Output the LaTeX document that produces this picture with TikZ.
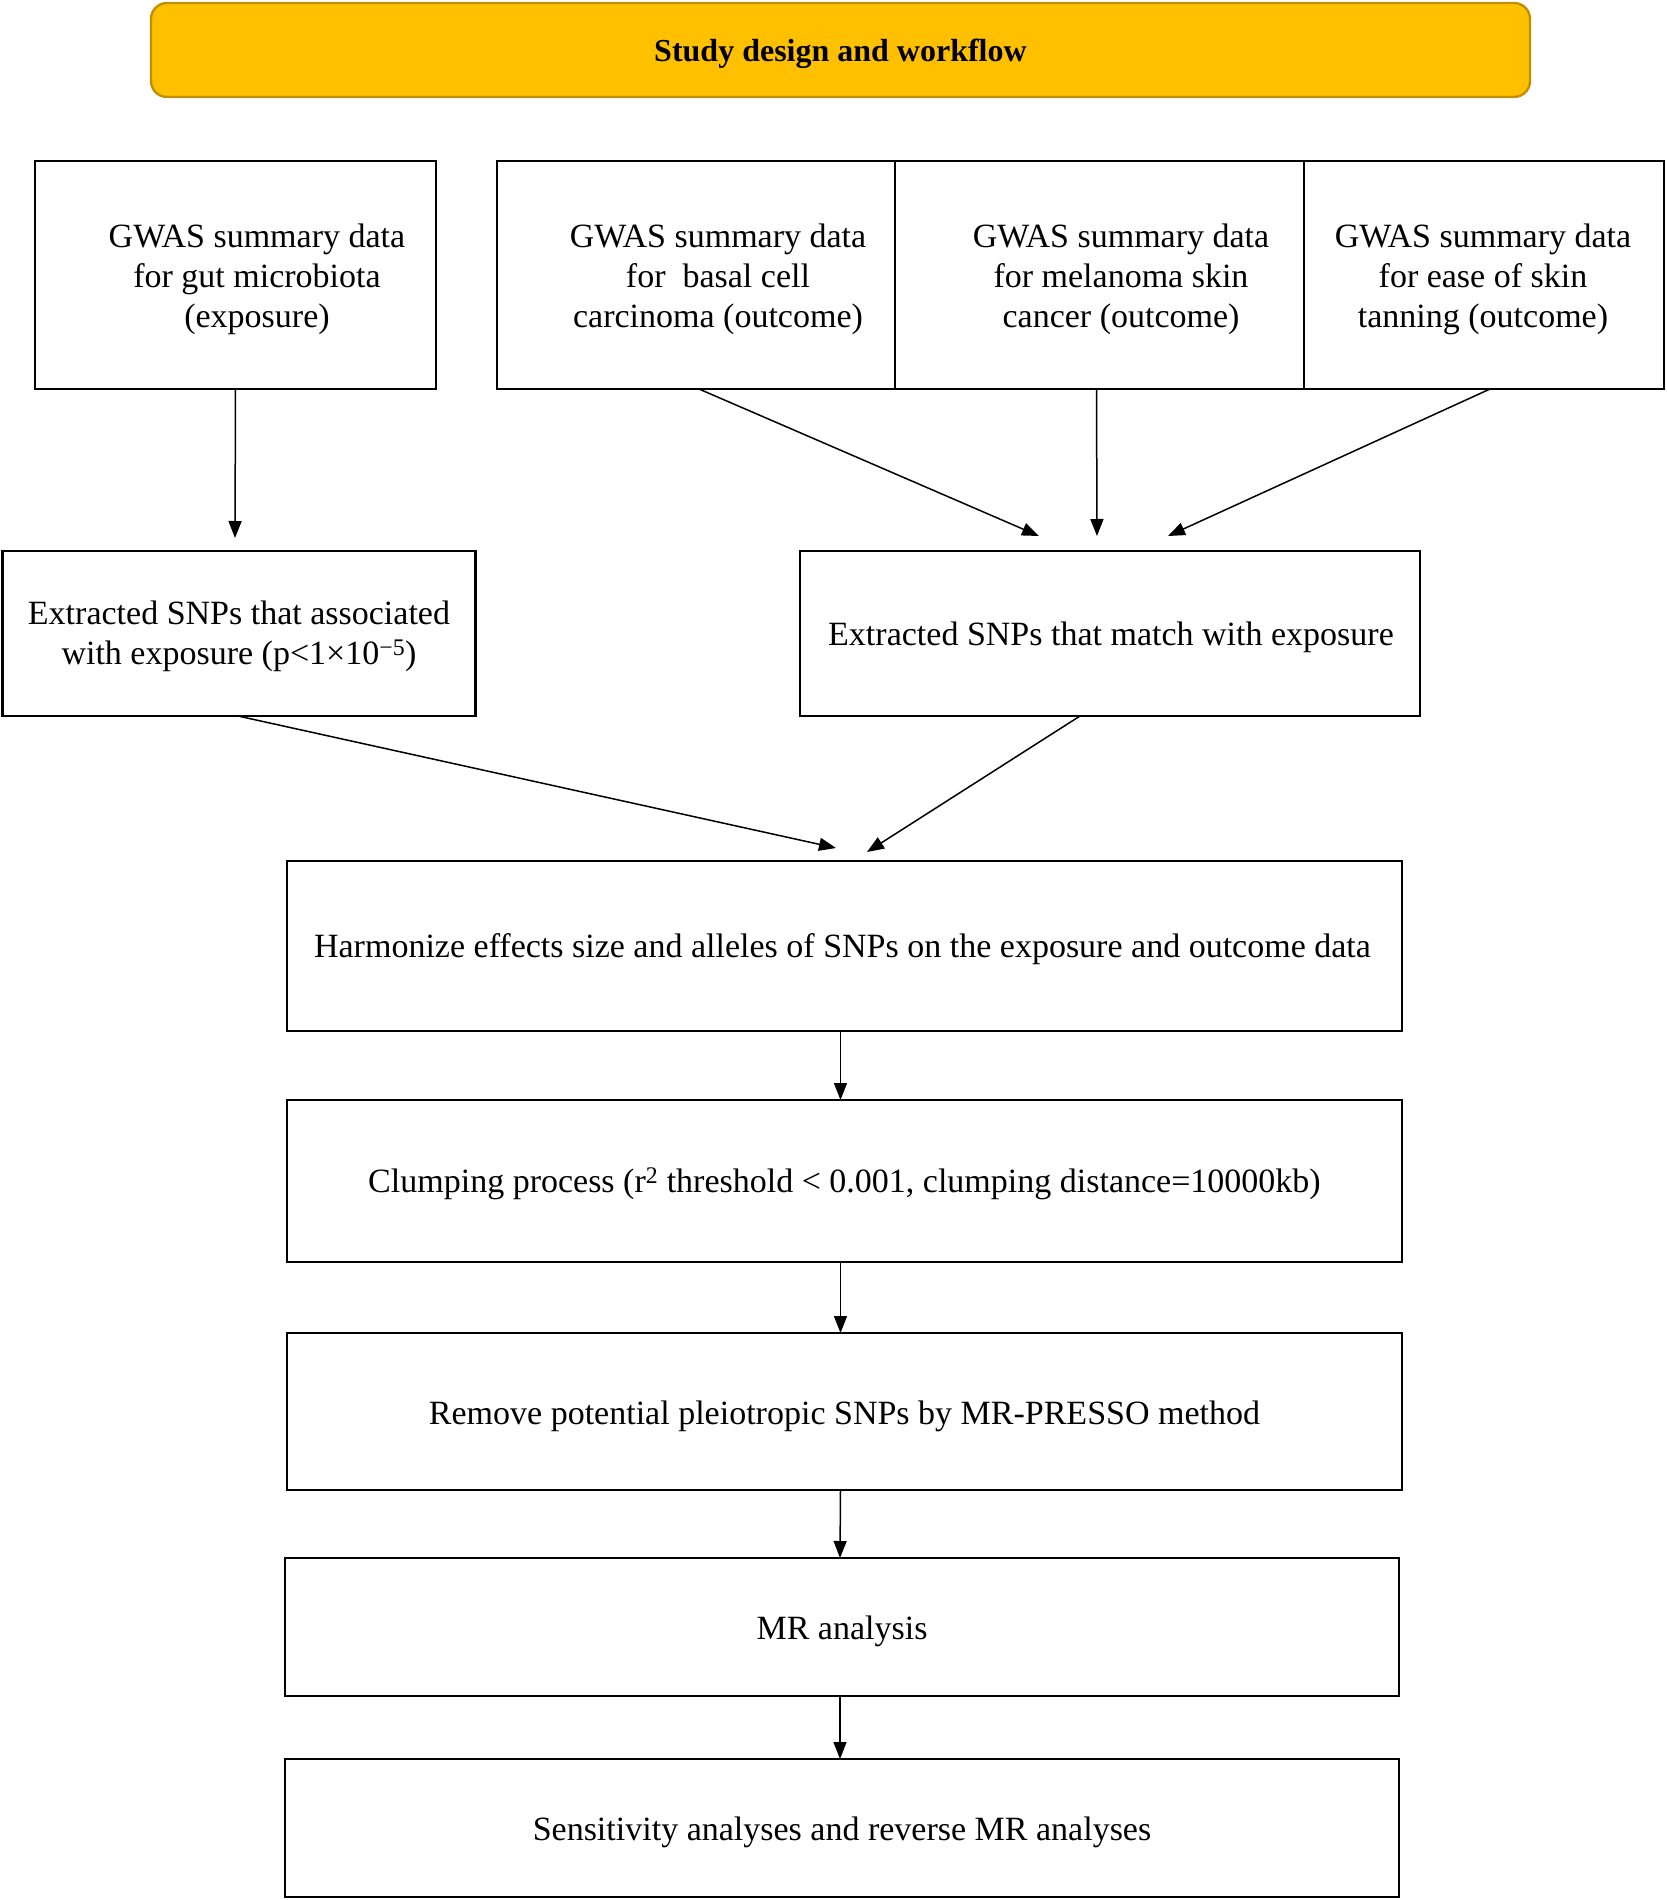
\documentclass[tikz,border=0pt]{standalone}
\usepackage{fontspec}
\setmainfont{Liberation Serif}
\usetikzlibrary{arrows.meta}
\definecolor{titlefill}{HTML}{FFC000}
\definecolor{titleedge}{HTML}{BF9000}
\tikzset{
  box/.style={draw=black, line width=2.6pt, fill=white, inner sep=0pt, outer sep=0pt},
  txt/.style={align=center, inner sep=0pt, font=\fontsize{34}{40}\selectfont},
  arr/.style={line width=1.5pt, -{Triangle[length=17pt,width=13pt]}},
}
\begin{document}
\begin{tikzpicture}[x=1pt,y=-1pt]
\useasboundingbox (0,0) rectangle (1666,1900);
% title
\node[draw=titleedge, fill=titlefill, line width=2.4pt, rounded corners=16pt,
      minimum width=1379pt, minimum height=94pt, inner sep=0pt] (title) at (840.5,50) {};
\node[inner sep=0pt, font=\fontsize{32}{38}\selectfont\bfseries] (titletext) at (840.5,54) {Study design and workflow};
% top row
\node[box, minimum width=401pt, minimum height=228pt] (b1) at (235.5,275) {};
\node[box, minimum width=398pt, minimum height=228pt] (b2) at (696,275) {};
\node[box, minimum width=409pt, minimum height=228pt] (b3) at (1099.5,275) {};
\node[box, minimum width=360pt, minimum height=228pt] (b4) at (1484,275) {};
\node[txt] (t1) at (257,279) {GWAS summary data\\for gut microbiota\\(exposure)};
\node[txt] (t2) at (718,279) {GWAS summary data\\for\ \ basal cell\\carcinoma (outcome)};
\node[txt] (t3) at (1121,279) {GWAS summary data\\for melanoma skin\\cancer (outcome)};
\node[txt] (t4) at (1483,279) {GWAS summary data\\for ease of skin\\tanning (outcome)};
% second row
\node[box, minimum width=473pt, minimum height=165pt] (b5) at (239,633.5) {};
\node[box, minimum width=620pt, minimum height=165pt] (b6) at (1110,633.5) {};
\node[txt] (t5) at (239,636) {Extracted SNPs that associated\\with exposure (p<1×10\textsuperscript{−5})};
\node[txt] (t6) at (1111,637) {Extracted SNPs that match with exposure};
% column
\node[box, minimum width=1115pt, minimum height=170pt] (b7) at (844.5,946) {};
\node[txt] (t7) at (842.5,949) {Harmonize effects size and alleles of SNPs on the exposure and outcome data};
\node[box, minimum width=1115pt, minimum height=162pt] (b8) at (844.5,1181) {};
\node[txt] (t8) at (844.5,1184) {Clumping process (r\textsuperscript{2} threshold < 0.001, clumping distance=10000kb)};
\node[box, minimum width=1115pt, minimum height=157pt] (b9) at (844.5,1411.5) {};
\node[txt] (t9) at (844.5,1416) {Remove potential pleiotropic SNPs by MR-PRESSO method};
\node[box, minimum width=1114pt, minimum height=138pt] (b10) at (842,1627) {};
\node[txt] (t10) at (842,1631) {MR analysis};
\node[box, minimum width=1114pt, minimum height=138pt] (b11) at (842,1828) {};
\node[txt] (t11) at (842,1832) {Sensitivity analyses and reverse MR analyses};
% free arrow ends
\coordinate (e1) at (235,538);
\coordinate (e2) at (1039,536);
\coordinate (e3) at (1097,536);
\coordinate (e4) at (1168,536);
\coordinate (e5) at (836,848);
\coordinate (e6) at (867,852);
% connectors
\draw[arr] (b1.south) -- (e1);
\draw[arr] ([xshift=3pt]b2.south) -- (e2);
\draw[arr] ([xshift=-3pt]b3.south) -- (e3);
\draw[arr] ([xshift=6pt]b4.south) -- (e4);
\draw[arr] ([xshift=-1pt]b5.south) -- (e5);
\draw[arr] ([xshift=-30pt]b6.south) -- (e6);
\draw[arr] ([xshift=-4pt]b7.south) -- ([xshift=-4pt]b8.north);
\draw[arr] ([xshift=-4pt]b8.south) -- ([xshift=-4pt]b9.north);
\draw[arr] ([xshift=-4pt]b9.south) -- ([xshift=-2pt]b10.north);
\draw[arr] ([xshift=-2pt]b10.south) -- ([xshift=-2pt]b11.north);
\end{tikzpicture}
\end{document}
